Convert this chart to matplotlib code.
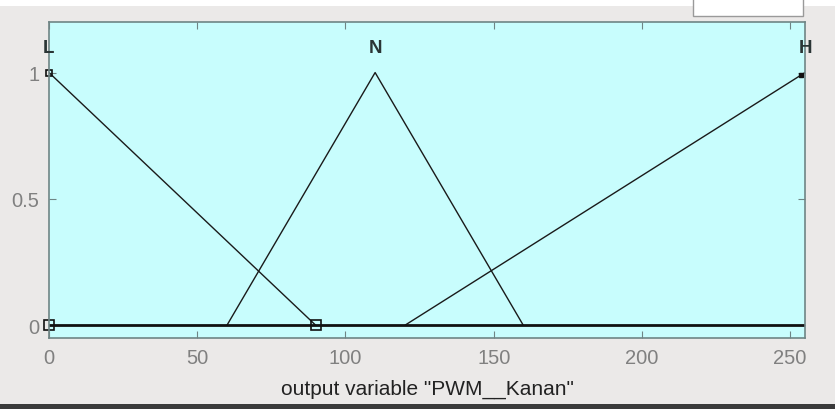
import matplotlib
matplotlib.use("Agg")
import matplotlib.pyplot as plt
from matplotlib.patches import Rectangle

# Membership functions of the output variable (triangular, params a b c)
mf_names = ["L", "N", "H"]
mf_params = [[-90, 0, 90], [60, 110, 160], [120, 255, 390]]
x_range = [0, 255]
x_ticks = [0, 50, 100, 150, 200, 250]
y_ticks = [0, 0.5, 1]
y_tick_labels = ["0", "0.5", "1"]
x_label = 'output variable "PWM__Kanan"'

plt.rcParams["font.family"] = ["Liberation Sans", "DejaVu Sans"]


def trimf_segment(p, lo, hi):
    a, b, c = p
    xs = [a, b, c]
    ys = [0.0, 1.0, 0.0]
    # clip the polyline to the universe of discourse
    out_x, out_y = [], []
    for i in range(2):
        x0, y0, x1, y1 = xs[i], ys[i], xs[i + 1], ys[i + 1]
        sx0, sx1 = max(x0, lo), min(x1, hi)
        if sx0 > sx1:
            continue
        f = lambda x: y0 + (y1 - y0) * (x - x0) / (x1 - x0)
        out_x += [sx0, sx1]
        out_y += [f(sx0), f(sx1)]
    return out_x, out_y


fig = plt.figure(figsize=(8.35, 4.10), dpi=100)
fig.patch.set_facecolor("#ebe9e8")

# white strip along the top and a small white box at the right
fig.add_artist(Rectangle((0, 1 - 7 / 410), 1, 7 / 410, transform=fig.transFigure,
                         facecolor="white", edgecolor="none", zorder=0))
fig.add_artist(Rectangle((693 / 835, 1 - 17 / 410), 110 / 835, 18 / 410,
                         transform=fig.transFigure, facecolor="white",
                         edgecolor="#9a9a9a", linewidth=1, zorder=1))
# dark bar at the bottom edge
fig.add_artist(Rectangle((0, 0), 1, 5 / 410, transform=fig.transFigure,
                         facecolor="#3a3a3a", edgecolor="none", zorder=1))

ax = fig.add_axes([49 / 835, 1 - 339 / 410, 756 / 835, 316 / 410])
ax.set_facecolor("#c8fdfd")
ax.set_xlim(x_range)
ax.set_ylim(-0.05, 1.2)

for name, p in zip(mf_names, mf_params):
    xs, ys = trimf_segment(p, x_range[0], x_range[1])
    ax.plot(xs, ys, color="#1a1a1a", linewidth=1.0, solid_capstyle="butt")
    ax.text(min(max(p[1], x_range[0]), x_range[1]), 1.1, name,
            ha="center", va="center", fontsize=13.5, fontweight="bold",
            color="#2a3535")

# baseline at zero
ax.plot(x_range, [0, 0], color="#111111", linewidth=2.0)

# selection handles on the first membership function
sel = mf_params[0]
ax.plot([max(sel[0], x_range[0]), sel[2]], [0, 0], linestyle="none", marker="s",
        markersize=7, markerfacecolor="none", markeredgecolor="#111111",
        markeredgewidth=1.2, clip_on=False)
ax.plot([sel[1]], [1], linestyle="none", marker="s", markersize=5,
        markerfacecolor="none", markeredgecolor="#111111", markeredgewidth=1.2,
        clip_on=False)
ax.plot([x_range[1] - 1.5], [1 - 1.5 / 135], linestyle="none", marker="s",
        markersize=3, color="#111111")

ax.set_xticks(x_ticks)
ax.set_yticks(y_ticks)
ax.set_yticklabels(y_tick_labels)
ax.tick_params(axis="both", direction="in", length=5, width=0.8,
               color="#6f8585", labelcolor="#808080", labelsize=14.5,
               top=True, right=True, pad=7)
for s in ax.spines.values():
    s.set_color("#6f8585")
    s.set_linewidth(1.2)

ax.set_xlabel(x_label, fontsize=15, color="#222222", labelpad=9)

fig.savefig("out.png", dpi=100, facecolor=fig.get_facecolor())
